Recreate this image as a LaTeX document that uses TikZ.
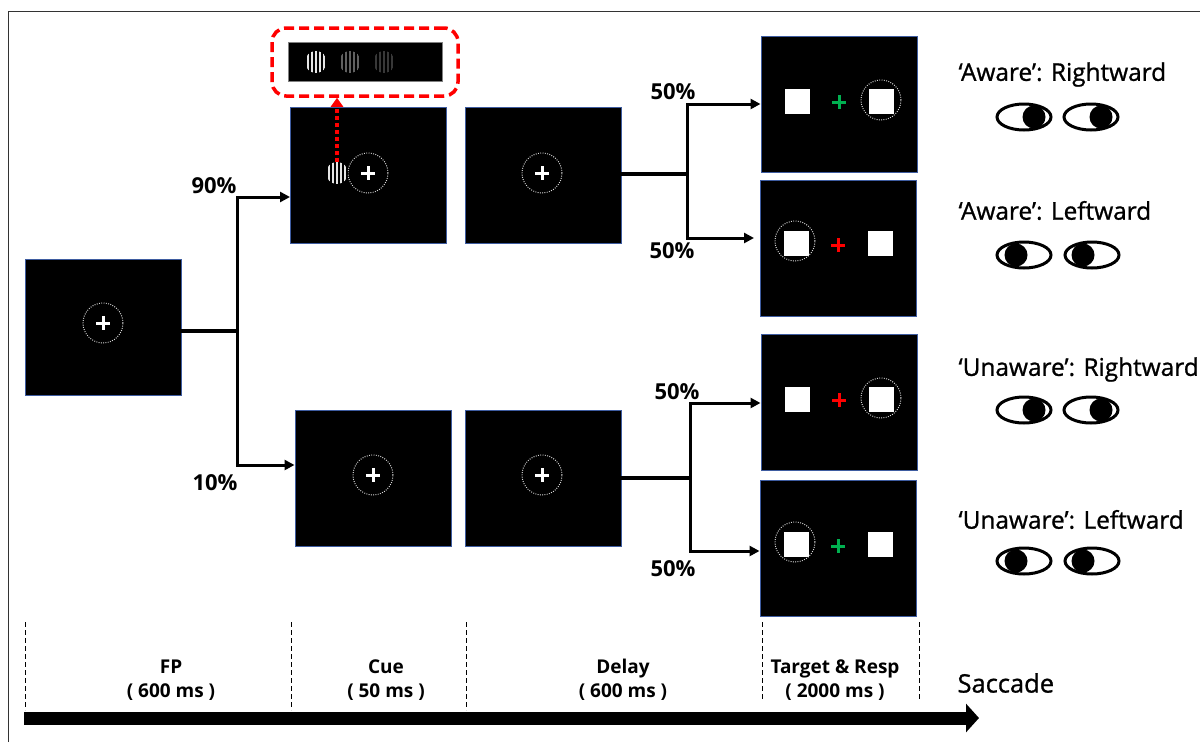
\documentclass[tikz,border=0pt]{standalone}
\usepackage{fontspec}
\setmainfont{Open Sans}
\newfontfamily\labelfont[FakeBold=1]{Open Sans}
\usepackage{tikz}
\usetikzlibrary{shapes.geometric,arrows.meta}
\definecolor{ScreenBlue}{RGB}{62,92,160}
\definecolor{CueRed}{RGB}{255,0,0}
\definecolor{CrossGreen}{RGB}{0,176,80}
\newcommand{\fixcross}[3]{\draw[#3,line width=3pt] (#1-7,#2) -- (#1+7,#2) (#1,#2-7) -- (#1,#2+7);}

\begin{document}
\begin{tikzpicture}[x=1pt,y=-1pt,
  screen/.style={draw=ScreenBlue,line width=1pt,fill=black,minimum width=156pt,minimum height=136pt,inner sep=0pt},
  gaze/.style={circle,draw=white!85!black,dash pattern=on .9pt off 1.4pt,line width=1pt,minimum size=40pt,inner sep=0pt},
  stim/.style={fill=white,minimum size=25pt,inner sep=0pt},
  grating/.style={circle,fill=black,minimum size=22pt,inner sep=0pt,path picture={
    \foreach \s in {-8,-4,0,4,8}
      \draw[#1,line width=2pt] ([xshift=\s pt]path picture bounding box.north) -- ([xshift=\s pt]path picture bounding box.south);}},
  eye/.style={ellipse,draw=black,line width=3pt,fill=white,minimum width=54pt,minimum height=26pt,inner sep=0pt},
  pupil/.style={circle,fill=black,minimum size=23pt,inner sep=0pt},
  branch/.style={line width=4pt,draw=black},
  arrow/.style={line width=3pt,draw=black,-{Triangle[length=10pt,width=10pt]}},
  pct/.style={font=\fontsize{22}{24}\selectfont\bfseries},
  tick/.style={dash pattern=on 5pt off 3pt,line width=.8pt,draw=black},
  phase/.style={font=\fontsize{19}{24}\selectfont\bfseries,align=center},
  cond/.style={font=\fontsize{24.4}{26}\selectfont\labelfont,anchor=west},
]
\useasboundingbox (0,0) rectangle (1200,742);
\fill[white] (0,0) rectangle (1200,742);
\draw[line width=.8pt,draw=black!80] (8,742) -- (8,11) -- (1200,11);

% screens
\node[screen] (fp) at (103,327) {};
\node[screen] (cueA) at (368.5,175) {};
\node[screen] (delayA) at (543,175) {};
\node[screen] (cueU) at (373,478) {};
\node[screen] (delayU) at (543,478) {};
\node[screen] (tarA1) at (839,104.5) {};
\node[screen] (tarA2) at (838,248) {};
\node[screen] (tarU1) at (839,402.5) {};
\node[screen] (tarU2) at (838,548.5) {};

% fixation
\node[gaze] (gazeFp) at (103,323) {};
\fixcross{103}{323}{white}
\node[gaze] (gazeCueA) at (368,173) {};
\fixcross{368}{173}{white}
\node[gaze] (gazeDelayA) at (542,173) {};
\fixcross{542}{173}{white}
\node[gaze] (gazeCueU) at (373,475) {};
\fixcross{373}{475}{white}
\node[gaze] (gazeDelayU) at (542,475) {};
\fixcross{542}{475}{white}

% targets
\node[stim] (a1L) at (797,101) {};
\node[stim] (a1R) at (881,101) {};
\node[gaze] at (881,100) {};
\fixcross{839}{102}{CrossGreen}
\node[stim] (a2L) at (796,243) {};
\node[stim] (a2R) at (880,243) {};
\node[gaze] at (795,241) {};
\fixcross{838}{245}{CueRed}
\node[stim] (u1L) at (797,399) {};
\node[stim] (u1R) at (881,399) {};
\node[gaze] at (881,398) {};
\fixcross{839}{400}{CueRed}
\node[stim] (u2L) at (796,544) {};
\node[stim] (u2R) at (880,544) {};
\node[gaze] at (795,542) {};
\fixcross{838}{546}{CrossGreen}

% cue inset
\node[grating=white!90!black] (cueGrating) at (337,173) {};
\node[draw=CueRed,dash pattern=on 10pt off 5pt,line width=3.5pt,rounded corners=14pt,minimum width=186pt,minimum height=68pt] (inset) at (365,62) {};
\node[draw=black!50,fill=black,minimum width=154pt,minimum height=39pt,inner sep=0pt] (strip) at (365,61.5) {};
\node[grating=white!90!black] (g1) at (316,62) {};
\node[grating=black!62] (g2) at (350,62) {};
\node[grating=black!78] (g3) at (384,62) {};
\draw[CueRed,line width=3.5pt,dash pattern=on 3.5pt off 3.5pt,-{Triangle[length=9pt,width=12pt]}] (cueGrating.north) -- (cueGrating.north |- inset.south);

% connectors
\coordinate (fpOut) at (181,331);
\coordinate (fpJoin) at (237,331);
\coordinate (dAOut) at (621,174);
\coordinate (dAJoin) at (687,174);
\coordinate (dUOut) at (621,478);
\coordinate (dUJoin) at (690,478);
\draw[branch] (fpOut) -- (fpJoin);
\draw[arrow] (fpJoin) |- (cueA.west |- 0,197);
\draw[arrow] (fpJoin) |- (cueU.west |- 0,465);
\draw[branch] (dAOut) -- (dAJoin);
\draw[arrow] (dAJoin) |- (tarA1.west |- 0,104);
\draw[arrow] (dAJoin) |- (754,238);
\draw[branch] (dUOut) -- (dUJoin);
\draw[arrow] (dUJoin) |- (tarU1.west |- 0,403);
\draw[arrow] (dUJoin) |- (tarU2.west |- 0,551);

\node[pct] (p90) at (214,186) {90\%};
\node[pct] (p10) at (215,483) {10\%};
\node[pct] (p50a) at (673,92) {50\%};
\node[pct] (p50b) at (672,251) {50\%};
\node[pct] (p50c) at (677,392) {50\%};
\node[pct] (p50d) at (673,569) {50\%};

% conditions
\node[cond] (lblA1) at (955,74.5) {‘Aware’: Rightward};
\node[eye] (eyeA1a) at (1024,117) {};
\node[pupil] (pupA1a) at (1034,117) {};
\node[eye] (eyeA1b) at (1091,117) {};
\node[pupil] (pupA1b) at (1101,117) {};
\node[cond] (lblA2) at (955,210.5) {‘Aware’: Leftward};
\node[eye] (eyeA2a) at (1024,255) {};
\node[pupil] (pupA2a) at (1016,255) {};
\node[eye] (eyeA2b) at (1092,255) {};
\node[pupil] (pupA2b) at (1083,255) {};
\node[cond] (lblU1) at (955,369.5) {‘Unaware’: Rightward};
\node[eye] (eyeU1a) at (1024,410) {};
\node[pupil] (pupU1a) at (1034,410) {};
\node[eye] (eyeU1b) at (1091,410) {};
\node[pupil] (pupU1b) at (1101,410) {};
\node[cond] (lblU2) at (955,519.5) {‘Unaware’: Leftward};
\node[eye] (eyeU2a) at (1024,561) {};
\node[pupil] (pupU2a) at (1016,561) {};
\node[eye] (eyeU2b) at (1092,561) {};
\node[pupil] (pupU2b) at (1083,561) {};

% timeline
\coordinate (t0) at (25,622);
\coordinate (t1) at (291,622);
\coordinate (t2) at (466,622);
\coordinate (t3) at (762,622);
\coordinate (t4) at (919,622);
\draw[tick] (t0) -- ++(0,88);
\draw[tick] (t1) -- ++(0,88);
\draw[tick] (t2) -- ++(0,88);
\draw[tick] (t3) -- ++(0,78);
\draw[tick] (t4) -- ++(0,78);
\node[phase] (phFp) at (171,680) {FP\\( 600 ms )};
\node[phase] (phCue) at (386,680) {Cue\\( 50 ms )};
\node[phase] (phDelay) at (623,680) {Delay\\( 600 ms )};
\node[phase] (phTarget) at (835,680) {Target \& Resp\\( 2000 ms )};
\node[cond,font=\fontsize{25.5}{26}\selectfont\labelfont] (saccade) at (954,683) {Saccade};
\coordinate (timeStart) at (24,718);
\coordinate (timeEnd) at (979,718);
\draw[line width=13pt,draw=black,-{Triangle[length=13pt,width=28pt]}] (timeStart) -- (timeEnd);
\end{tikzpicture}
\end{document}
